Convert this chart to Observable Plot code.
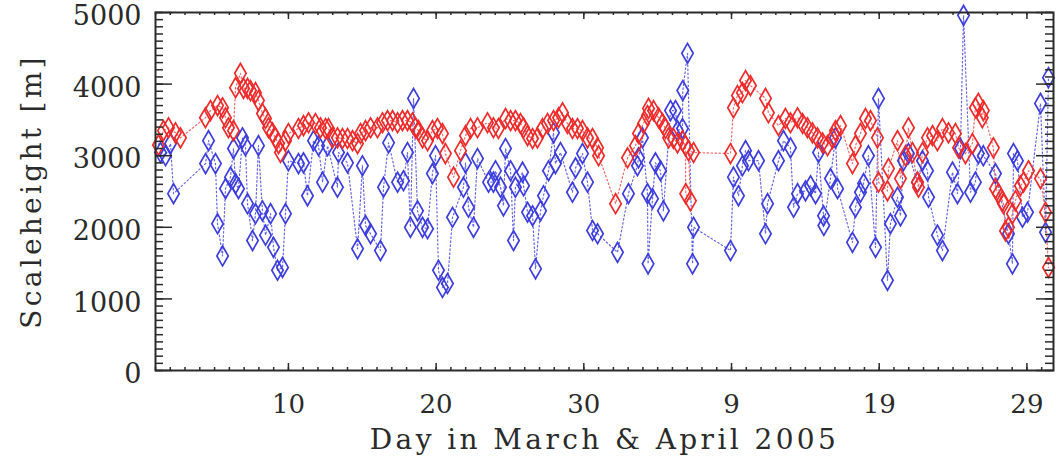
<!DOCTYPE html>
<html><head><meta charset="utf-8">
<script src="https://cdn.jsdelivr.net/npm/d3@7"></script>
<script src="https://cdn.jsdelivr.net/npm/@observablehq/plot@0.6"></script>
<style>
html,body{margin:0;padding:0;background:#fff;}
</style></head><body><div id="chart"></div>
<script>
// Red series (day index from 1 March 2005, scale height in m)
const redDay = [1.2,1.54,1.88,2.35,2.69,4.38,4.72,5.2,5.54,5.74,5.94,6.28,6.42,6.75,6.96,7.23,7.43,7.77,7.97,8.24,8.45,8.65,8.92,9.12,9.33,9.46,9.8,10.0,
10.68,11.02,11.36,11.83,12.17,12.51,12.71,12.98,13.32,13.66,14.0,14.34,14.68,14.88,15.22,15.56,16.03,16.37,16.71,17.05,17.39,17.72,18.06,18.4,18.6,18.81,19.08,19.42,19.75,20.09,20.43,20.63,
21.18,21.65,21.99,22.33,22.8,23.48,23.88,24.22,24.7,25.04,25.37,25.71,25.92,26.19,26.53,26.86,27.2,27.54,27.95,28.29,28.56,28.89,29.23,29.57,29.91,30.25,30.59,30.93,31.0,
32.15,32.96,33.5,33.7,34.04,34.31,34.38,34.72,35.06,35.33,35.53,35.74,36.07,36.34,36.68,36.88,36.9,37.22,37.09,37.43,
39.93,40.13,40.4,40.74,40.95,41.28,42.3,42.5,43.18,43.65,43.99,44.47,44.81,45.14,45.48,45.82,46.16,46.5,46.84,47.04,47.38,
48.19,48.39,48.73,49.07,49.41,49.88,49.95,50.56,50.63,51.24,51.44,51.78,51.98,52.25,52.59,52.66,52.93,53.27,53.61,53.94,54.28,54.69,55.16,55.37,55.84,56.31,56.51,56.71,56.98,57.05,
57.73,57.87,58.07,58.34,58.41,58.55,58.75,59.02,59.22,59.56,59.77,60.11,60.92,61.26,61.46];
const redHeight = [3150,3350,3390,3320,3250,3530,3630,3700,3670,3530,3390,3350,3950,4150,3940,3940,3910,3880,3770,3590,3520,3390,3320,3250,3170,3045,3210,3310,
3380,3420,3460,3450,3390,3380,3380,3250,3250,3240,3240,3210,3170,3310,3350,3390,3390,3460,3490,3490,3460,3490,3490,3460,3390,3350,3250,3210,3350,3380,3310,3030,
2700,3070,3280,3380,3390,3460,3390,3380,3520,3490,3490,3450,3390,3280,3240,3250,3380,3450,3490,3530,3600,3450,3380,3380,3350,3250,3240,3110,3000,
2330,2970,3140,3310,3450,3560,3660,3630,3530,3450,3380,3250,3240,3180,3210,3140,2470,2370,3070,3045,
3030,3670,3840,3880,4050,3980,3800,3600,3420,3520,3460,3530,3450,3390,3320,3250,3180,3140,3240,3350,3420,
2890,3140,3310,3520,3490,3250,2630,2510,2820,3210,2680,3000,3390,3045,2630,2560,3045,3250,3280,3210,3380,3320,3310,3110,3030,3170,3670,3730,3530,3630,
3110,2540,2470,2370,2330,1950,2000,2190,2370,2580,2630,2790,2680,2210,1440];

// Blue series
const blueDay = [1.34,1.68,2.02,2.22,4.39,4.59,5.06,5.2,5.54,5.74,6.08,6.28,6.42,6.62,6.89,7.09,7.23,7.57,7.77,7.97,8.24,8.45,8.79,8.99,9.26,9.6,9.8,10.0,
10.68,11.02,11.29,11.7,12.04,12.31,12.65,13.32,13.39,14.0,14.68,15.01,15.22,15.56,16.23,16.44,16.78,17.39,17.79,18.06,18.26,18.47,18.74,19.08,19.42,19.75,19.96,20.16,20.43,20.77,
21.11,21.85,21.99,22.19,22.53,22.8,23.55,23.88,24.02,24.36,24.56,24.7,25.04,25.24,25.37,25.85,25.92,26.19,26.53,26.73,27.07,27.27,27.61,27.95,28.08,28.42,29.23,29.44,29.91,30.25,30.59,30.93,
32.28,33.02,33.63,33.7,33.97,34.31,34.35,34.65,34.85,35.19,35.39,35.87,36.21,36.34,36.68,36.7,37.02,37.36,37.43,
39.93,40.13,40.47,40.74,40.95,41.15,41.83,42.3,42.44,43.18,43.52,43.99,44.2,44.47,45.01,45.35,45.69,45.89,46.23,46.25,46.7,47.04,47.18,
48.19,48.39,48.73,48.94,49.27,49.75,49.95,50.56,50.76,51.24,51.44,51.64,51.98,52.59,52.93,53.27,53.34,53.94,54.28,54.96,55.3,55.5,55.71,56.18,56.51,56.71,57.05,
57.87,58.75,59.02,59.09,59.36,59.7,60.04,60.92,61.26,61.46];
const blueHeight = [3045,3000,3170,2470,2890,3210,2890,2050,1600,2540,2700,3100,2610,2540,3250,3140,2330,1815,2190,3140,2230,1890,2190,1720,1400,1440,2190,2930,
2890,2900,2440,3210,3140,2630,3140,2560,3045,2900,1700,2860,2025,1910,1675,2560,3180,2630,2650,3045,2000,3800,2230,2000,1980,2750,3000,1400,1160,1215,
2140,2560,2900,2280,2000,2960,2630,2630,2790,2560,2300,3100,2790,1815,2560,2770,2580,2210,2160,1420,2230,2440,2790,3320,2890,3045,2490,2830,3030,2630,1955,1910,
1650,2470,2860,2970,3250,2470,1490,2400,2900,2790,2230,3630,3630,3350,3380,3910,4430,1490,2000,
1675,2700,2440,2860,3070,2930,2930,1910,2330,2930,3210,3110,2280,2470,2510,2580,2470,3045,2160,2025,2680,3250,2540,
1790,2280,2490,2610,3000,1720,3800,1260,2050,2420,2160,2930,3030,2630,2930,2790,2420,1890,1675,2770,2470,3100,4960,2490,2630,3030,3000,
2750,1910,1490,3030,2930,2140,2210,3730,1930,4090];

// Axis ticks and labels
const xTickValues = [10, 20, 30, 40, 50, 60];
const xTickLabels = ["10", "20", "30", "9", "19", "29"];
const yTickValues = [0, 1000, 2000, 3000, 4000, 5000];
const xLabel = "Day in March & April 2005";
const yLabel = "Scaleheight [m]";

const red = redDay.map((d, i) => ({day: d, h: redHeight[i]}));
const blue = blueDay.map((d, i) => ({day: d, h: blueHeight[i]}));

const axisColor = "#2a2a2a";
const font = "DejaVu Serif";
const yMinor = d3.range(0, 5001, 100);
const xMinor = d3.range(1, 62, 1);

const W = 1056, H = 460;
const mL = 155, mR = 3, mT = 12, mB = 90;
const innerW = W - mL - mR;   // frame width
const innerH = H - mT - mB;   // frame height

// inward tick helpers (length in px)
const leftTicks = (vals, len) => Plot.tickY(vals, {y: d => d, insetRight: innerW - len, stroke: axisColor, strokeWidth: 1.5});
const rightTicks = (vals, len) => Plot.tickY(vals, {y: d => d, insetLeft: innerW - len, stroke: axisColor, strokeWidth: 1.5});
const bottomTicks = (vals, len) => Plot.tickX(vals, {x: d => d, insetTop: innerH - len, stroke: axisColor, strokeWidth: 1.5});
const topTicks = (vals, len) => Plot.tickX(vals, {x: d => d, insetBottom: innerH - len, stroke: axisColor, strokeWidth: 1.5});

const chart = Plot.plot({
  width: W,
  height: H,
  marginLeft: mL,
  marginRight: mR,
  marginTop: mT,
  marginBottom: mB,
  x: {domain: [1, 61.8]},
  y: {domain: [0, 5000]},
  style: {fontFamily: font, background: "#fff", color: axisColor},
  marks: [
    Plot.line(blue, {x: "day", y: "h", stroke: "#6464e8", strokeWidth: 1.2, strokeDasharray: "1.5,2.5"}),
    Plot.line(red, {x: "day", y: "h", stroke: "#f06868", strokeWidth: 1.2, strokeDasharray: "1.5,2.5"}),
    Plot.dot(blue, {x: "day", y: "h", symbol: "diamond", r: 6, stroke: "#3d3dde", strokeWidth: 1.7, fill: "none"}),
    Plot.dot(red, {x: "day", y: "h", symbol: "diamond", r: 6, stroke: "#ee2a2a", strokeWidth: 1.7, fill: "none"}),
    leftTicks(yMinor, 8),
    leftTicks(yTickValues, 17),
    rightTicks(yMinor, 8),
    rightTicks(yTickValues, 17),
    bottomTicks(xMinor, 3),
    bottomTicks(xTickValues, 7),
    topTicks(xMinor, 3),
    topTicks(xTickValues, 7),
    Plot.axisY({anchor: "left", ticks: yTickValues, tickSize: 0, tickPadding: 14, fontSize: 27, label: null, dy: 4,
      tickFormat: d => String(d), fill: axisColor}),
    Plot.axisX({anchor: "bottom", ticks: xTickValues, tickSize: 0, tickPadding: 24, fontSize: 26, label: null,
      tickFormat: d => xTickLabels[xTickValues.indexOf(d)], fill: axisColor}),
    Plot.frame({stroke: axisColor, strokeWidth: 2}),
    // axis titles
    Plot.text([xLabel], {frameAnchor: "bottom", dy: 70, fontSize: 28, fill: axisColor, lineAnchor: "middle", textAnchor: "middle"}),
    Plot.text([yLabel], {frameAnchor: "left", dx: -123, rotate: -90, fontSize: 28, fill: axisColor, lineAnchor: "middle", textAnchor: "middle"})
  ]
});
document.getElementById("chart").appendChild(chart);
// monospace-like spacing for the titles
d3.select(chart).selectAll("text").filter(function(){ return this.textContent === xLabel; }).attr("letter-spacing", "3.4px");
d3.select(chart).selectAll("text").filter(function(){ return this.textContent === yLabel; }).attr("letter-spacing", "3.3px");
</script>
</body></html>
